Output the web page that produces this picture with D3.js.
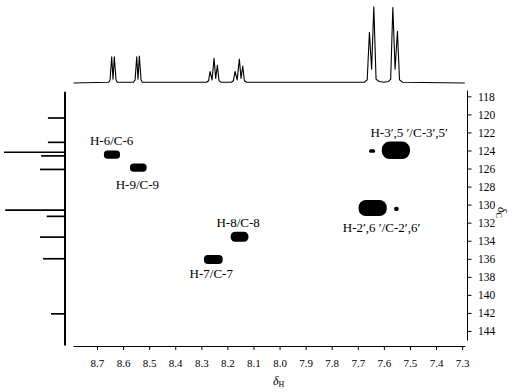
<!DOCTYPE html>
<html>
<head>
<meta charset="utf-8">
<script src="https://cdn.jsdelivr.net/npm/d3@7"></script>
<style>
  body { margin: 0; background: #fff; }
  svg { display: block; font-family: "Liberation Serif", "Times New Roman", serif; }
</style>
</head>
<body>
<div id="chart"></div>
<script>
// 1H trace along the top (ppm, relative intensity)
const protonPpm = [8.79, 8.655, 8.650, 8.6436, 8.6386, 8.6336, 8.627, 8.622,
  8.56, 8.554, 8.5477, 8.5427, 8.5377, 8.531, 8.526,
  8.28, 8.272, 8.2666, 8.2589, 8.2512, 8.2448, 8.2385, 8.232, 8.225,
  8.185, 8.177, 8.1707, 8.1625, 8.1542, 8.1477, 8.1412, 8.135, 8.127,
  7.675, 7.664, 7.6555, 7.647, 7.6386, 7.630, 7.618, 7.60, 7.582, 7.574,
  7.5657, 7.557, 7.5481, 7.540, 7.528, 7.29];
const protonInt = [0, 0.01, 0.04, 0.34, 0.05, 0.34, 0.04, 0.01,
  0.01, 0.04, 0.34, 0.05, 0.35, 0.04, 0.01,
  0.01, 0.03, 0.15, 0.04, 0.32, 0.06, 0.23, 0.03, 0.01,
  0.01, 0.03, 0.15, 0.04, 0.31, 0.06, 0.22, 0.03, 0.01,
  0.01, 0.04, 0.66, 0.18, 0.99, 0.05, 0.02, 0.01, 0.02, 0.05,
  0.98, 0.18, 0.67, 0.04, 0.01, 0];

// 13C lines on the left
const carbonPpm = [120.4, 123.1, 124.2, 124.6, 126.1, 130.6, 131.3, 133.6, 136.0, 142.1];
const carbonInt = [0.28, 0.28, 1.0, 0.39, 0.41, 0.98, 0.30, 0.41, 0.36, 0.23];

// HSQC cross peaks: centre and half extent in ppm
const peakH  = [8.6425, 8.5416, 8.1534, 8.254, 7.554, 7.645, 7.643, 7.552];
const peakC  = [124.45, 125.89, 133.56, 136.08, 123.98, 124.06, 130.38, 130.47];
const peakDH = [0.031, 0.032, 0.034, 0.036, 0.054, 0.0115, 0.054, 0.009];
const peakDC = [0.46, 0.46, 0.55, 0.50, 0.96, 0.19, 0.89, 0.24];

// assignments, placed in ppm
const labelText = ["H-6/C-6", "H-9/C-9", "H-8/C-8", "H-7/C-7",
  "H-3\u2032,5 \u2032/C-3\u2032,5\u2032", "H-2\u2032,6 \u2032/C-2\u2032,6\u2032"];
const labelH = [8.644, 8.545, 8.159, 8.262, 7.503, 7.609];
const labelC = [123.34, 128.3, 132.45, 138.17, 122.48, 133.07];

const hTicks = [8.7, 8.6, 8.5, 8.4, 8.3, 8.2, 8.1, 8.0, 7.9, 7.8, 7.7, 7.6, 7.5, 7.4, 7.3];
const cTicks = [118, 120, 122, 124, 126, 128, 130, 132, 134, 136, 138, 140, 142, 144];

const W = 515, H = 392;
const svg = d3.select("#chart").append("svg")
  .attr("width", W).attr("height", H);

const x = d3.scaleLinear().domain([8.792, 7.289]).range([73, 465]);
const y = d3.scaleLinear().domain([117.3, 145.0]).range([90, 340]);
const topY = d3.scaleLinear().domain([0, 1]).range([83, 6]);
const leftX = d3.scaleLinear().domain([0, 1]).range([65, 4]);

// top 1D spectrum
const trace = protonPpm.map((p, i) => [p, protonInt[i]]);
svg.append("path")
  .attr("d", d3.line().x(d => x(d[0])).y(d => topY(d[1]))(trace))
  .attr("fill", "none")
  .attr("stroke", "#000")
  .attr("stroke-width", 1.1)
  .attr("stroke-linejoin", "round");

// left 1D spectrum
svg.append("line")
  .attr("x1", leftX(0)).attr("x2", leftX(0))
  .attr("y1", y(117.5)).attr("y2", y(145.6))
  .attr("stroke", "#000").attr("stroke-width", 2);
svg.selectAll(".cline").data(carbonPpm).join("line")
  .attr("class", "cline")
  .attr("x1", leftX(0))
  .attr("x2", (d, i) => leftX(carbonInt[i]))
  .attr("y1", d => y(d)).attr("y2", d => y(d))
  .attr("stroke", "#000").attr("stroke-width", 1.7);

// cross peaks
svg.selectAll(".xpk").data(peakH).join("rect")
  .attr("class", "xpk")
  .each(function (d, i) {
    const x0 = x(d + peakDH[i]), x1 = x(d - peakDH[i]);
    const y0 = y(peakC[i] - peakDC[i]), y1 = y(peakC[i] + peakDC[i]);
    const w = x1 - x0, h = y1 - y0;
    const r = Math.min(w, h) * 0.45;
    d3.select(this)
      .attr("x", x0).attr("y", y0)
      .attr("width", w).attr("height", h)
      .attr("rx", r).attr("ry", r);
  })
  .attr("fill", "#000");

// labels
svg.selectAll(".lbl").data(labelText).join("text")
  .attr("class", "lbl")
  .attr("x", (d, i) => x(labelH[i]))
  .attr("y", (d, i) => y(labelC[i]))
  .attr("text-anchor", "middle")
  .attr("font-size", 13)
  .text(d => d);

// bottom axis
const xAxis = svg.append("g").attr("transform", "translate(0,346)");
xAxis.call(d3.axisBottom(x).tickValues(d3.range(8.75, 7.29, -0.1)).tickSize(2).tickSizeOuter(0).tickFormat(""));
xAxis.call(d3.axisBottom(x).tickValues(hTicks).tickSize(4).tickSizeOuter(0).tickFormat(d3.format(".1f")));
xAxis.selectAll("text").attr("font-size", 11).attr("font-family", "Liberation Serif")
  .attr("y", 11).attr("dy", "0.9em").attr("fill", "#000");
xAxis.selectAll("line, path").attr("stroke", "#000");

// right axis
const yAxis = svg.append("g").attr("transform", "translate(467,0)");
yAxis.call(d3.axisRight(y).tickValues(d3.range(117, 146, 1)).tickSize(2.5).tickSizeOuter(0).tickFormat(""));
yAxis.call(d3.axisRight(y).tickValues(cTicks).tickSize(4.5).tickSizeOuter(0).tickFormat(d3.format("d")));
yAxis.selectAll("text").attr("font-size", 11.5).attr("font-family", "Liberation Serif").attr("x", 11).attr("fill", "#000");
yAxis.selectAll("line, path").attr("stroke", "#000");

// axis titles
const hTitle = svg.append("text").attr("x", 273).attr("y", 385).attr("font-size", 12);
hTitle.append("tspan").attr("font-style", "italic").text("\u03b4");
hTitle.append("tspan").attr("font-size", 8).attr("dy", 2).text("H");

const cTitle = svg.append("text").attr("transform", "translate(498,207) rotate(90)").attr("font-size", 12);
cTitle.append("tspan").attr("font-style", "italic").text("\u03b4");
cTitle.append("tspan").attr("font-size", 8).attr("dy", 2).text("C");
</script>
</body>
</html>
